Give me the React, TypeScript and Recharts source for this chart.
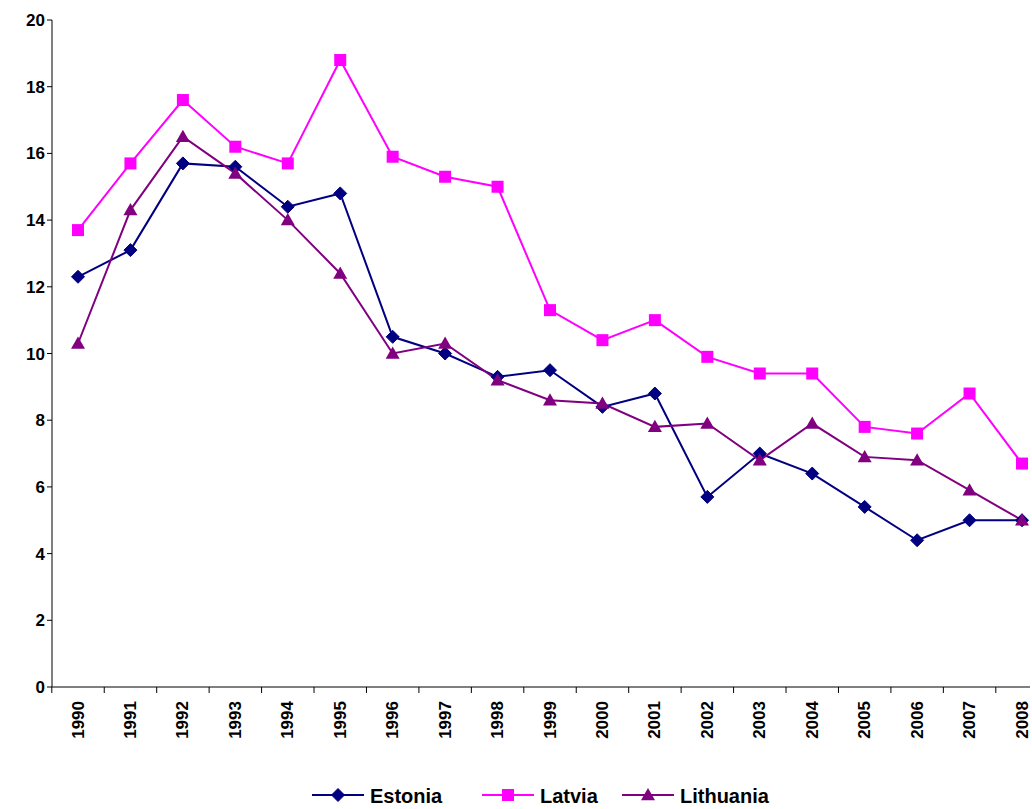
import React from "react";
import { LineChart, Line, XAxis, YAxis } from "recharts";

const years = ["1990","1991","1992","1993","1994","1995","1996","1997","1998","1999","2000","2001","2002","2003","2004","2005","2006","2007","2008"];
const estonia = [12.3,13.1,15.7,15.6,14.4,14.8,10.5,10.0,9.3,9.5,8.4,8.8,5.7,7.0,6.4,5.4,4.4,5.0,5.0];
const latvia = [13.7,15.7,17.6,16.2,15.7,18.8,15.9,15.3,15.0,11.3,10.4,11.0,9.9,9.4,9.4,7.8,7.6,8.8,6.7];
const lithuania = [10.3,14.3,16.5,15.4,14.0,12.4,10.0,10.3,9.2,8.6,8.5,7.8,7.9,6.8,7.9,6.9,6.8,5.9,5.0];
const yTicks = [0,2,4,6,8,10,12,14,16,18,20];

const data = years.map((y, i) => ({ year: y, Estonia: estonia[i], Latvia: latvia[i], Lithuania: lithuania[i] }));

const C_E = "#000080", C_L = "#FF00FF", C_T = "#800080";

const Diamond = (p: any) => { const { cx, cy, fill } = p; if (cx == null) return null; const s = 6.5; return <path d={`M${cx},${cy - s}L${cx + s},${cy}L${cx},${cy + s}L${cx - s},${cy}Z`} fill={fill} stroke={fill} />; };
const Square = (p: any) => { const { cx, cy, fill } = p; if (cx == null) return null; const s = 6; return <rect x={cx - s} y={cy - s} width={2 * s} height={2 * s} fill={fill} />; };
const Tri = (p: any) => { const { cx, cy, fill } = p; if (cx == null) return null; const s = 7; return <path d={`M${cx},${cy - s}L${cx + s},${cy + s * 0.75}L${cx - s},${cy + s * 0.75}Z`} fill={fill} />; };

const XTick = (p: any) => { const { x, y, payload } = p; return <g>
  <line x1={x - 26.2} x2={x - 26.2} y1={y - 8} y2={y - 2} stroke="#000" />
  <text x={x} y={y + 6} transform={`rotate(-90 ${x} ${y + 6})`} textAnchor="end" dominantBaseline="central" fontSize={17} fontWeight="bold" fill="#000" fontFamily="Liberation Sans, Arial">{payload.value}</text></g>; };

const Legend = () => {
  const items: [string, string, any][] = [["Estonia", C_E, Diamond], ["Latvia", C_L, Square], ["Lithuania", C_T, Tri]];
  const xs = [312, 482, 622];
  return <g>{items.map(([n, c, M], i) => (
    <g key={n}>
      <line x1={xs[i]} x2={xs[i] + 52} y1={795} y2={795} stroke={c} strokeWidth={2} />
      <M cx={xs[i] + 26} cy={795} fill={c} />
      <text x={xs[i] + 58} y={796} dominantBaseline="central" fontSize={20} fontWeight="bold" fontFamily="Liberation Sans, Arial">{n}</text>
    </g>))}</g>;
};

export default function App() {
  return (
    <div style={{ position: "absolute", left: 0, top: 0, width: 1032, height: 809 }}>
      <LineChart width={1032} height={809} data={data} margin={{ top: 20, right: 2, left: 0, bottom: 0 }}>
        <XAxis dataKey="year" interval={0} tick={<XTick />} height={122} stroke="#000" tickLine={false} padding={{ left: 26, right: 8 }} />
        <YAxis domain={[0, 20]} ticks={yTicks} width={52} stroke="#000" tick={{ fill: "#000", fontSize: 17, fontWeight: "bold", fontFamily: "Liberation Sans, Arial" }} tickSize={5} />
        <Line dataKey="Estonia" stroke={C_E} strokeWidth={2} dot={<Diamond fill={C_E} />} isAnimationActive={false} />
        <Line dataKey="Latvia" stroke={C_L} strokeWidth={2} dot={<Square fill={C_L} />} isAnimationActive={false} />
        <Line dataKey="Lithuania" stroke={C_T} strokeWidth={2} dot={<Tri fill={C_T} />} isAnimationActive={false} />
        <Legend />
      </LineChart>
    </div>
  );
}
